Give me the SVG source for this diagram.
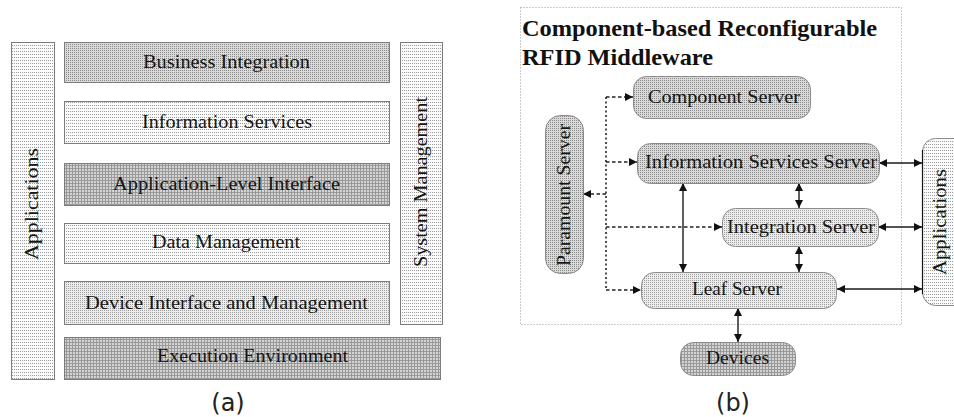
<svg xmlns="http://www.w3.org/2000/svg" width="954" height="417" viewBox="0 0 954 417">
  <style>
    .lbl { font-family: "Liberation Serif", "Times New Roman", serif; font-size: 19px; fill: #151515; text-anchor: middle; }
    .title { font-family: "Liberation Serif", "Times New Roman", serif; font-size: 23px; font-weight: bold; fill: #111; }
    .cap { font-family: "DejaVu Sans", "Noto Sans", sans-serif; font-size: 24px; fill: #222; text-anchor: middle; }
    .layer { stroke: #7c7c7c; stroke-width: 1; }
    .node { stroke: #8a8a8a; stroke-width: 1; }
    .frame { fill: none; stroke: #9a9a9a; stroke-width: 1; stroke-dasharray: 1 2; }
    .bus { fill: none; stroke: #222; stroke-width: 1.6; stroke-dasharray: 2 2.5; }
    .dash { fill: none; stroke: #222; stroke-width: 1.4; stroke-dasharray: 3.5 2.5; marker-end: url(#arr); }
    .solid { fill: none; stroke: #1a1a1a; stroke-width: 1.4; marker-start: url(#arr); marker-end: url(#arr); }
  </style>
  <defs>
    <!-- light dotted fill -->
    <pattern id="pLight" width="4" height="3" patternUnits="userSpaceOnUse">
      <rect width="4" height="3" fill="#fbfbfb"/>
      <rect x="0" y="0" width="1" height="1" fill="#9a9a9a"/>
      <rect x="2" y="0" width="1" height="1" fill="#9a9a9a"/>
    </pattern>
    <!-- soft grey dotted fill -->
    <pattern id="pSoft" width="2" height="2" patternUnits="userSpaceOnUse">
      <rect width="2" height="2" fill="#ececec"/>
      <rect x="0" y="0" width="1" height="1" fill="#a0a0a0"/>
    </pattern>
    <!-- medium grey dotted fill -->
    <pattern id="pMid" width="2" height="2" patternUnits="userSpaceOnUse">
      <rect width="2" height="2" fill="#dadada"/>
      <rect x="0" y="0" width="1" height="1" fill="#8a8a8a"/>
    </pattern>
    <!-- dark grey grid fill -->
    <pattern id="pDark" width="3" height="3" patternUnits="userSpaceOnUse">
      <rect width="3" height="3" fill="#d4d4d4"/>
      <rect x="0" y="0" width="3" height="1" fill="#999"/>
      <rect x="0" y="0" width="1" height="3" fill="#999"/>
    </pattern>
    <marker id="arr" viewBox="0 0 10 10" refX="10" refY="5" markerWidth="9" markerHeight="8" markerUnits="userSpaceOnUse" orient="auto-start-reverse">
      <path d="M0,0 L10,5 L0,10 z" fill="#111"/>
    </marker>
  </defs>

  <!-- ===== (a) layered middleware architecture ===== -->
  <g id="a-applications">
    <rect class="layer" x="11.5" y="42.5" width="43" height="337" fill="url(#pLight)"/>
    <text class="lbl" transform="translate(38,204) rotate(-90)" textLength="112" lengthAdjust="spacingAndGlyphs">Applications</text>
  </g>
  <g id="a-business">
    <rect class="layer" x="64.5" y="42.5" width="325" height="40" fill="url(#pMid)"/>
    <text class="lbl" x="226.5" y="68" textLength="167" lengthAdjust="spacingAndGlyphs">Business Integration</text>
  </g>
  <g id="a-info">
    <rect class="layer" x="64.5" y="101.5" width="325" height="42" fill="url(#pLight)"/>
    <text class="lbl" x="227" y="128" textLength="170" lengthAdjust="spacingAndGlyphs">Information Services</text>
  </g>
  <g id="a-ali">
    <rect class="layer" x="64.5" y="163.5" width="325" height="42" fill="url(#pDark)"/>
    <text class="lbl" x="226.5" y="190" textLength="227" lengthAdjust="spacingAndGlyphs">Application-Level Interface</text>
  </g>
  <g id="a-data">
    <rect class="layer" x="64.5" y="223.5" width="325" height="40" fill="url(#pLight)"/>
    <text class="lbl" x="226" y="248" textLength="148" lengthAdjust="spacingAndGlyphs">Data Management</text>
  </g>
  <g id="a-device">
    <rect class="layer" x="64.5" y="281.5" width="325" height="43" fill="url(#pSoft)"/>
    <text class="lbl" x="226.5" y="309" textLength="283" lengthAdjust="spacingAndGlyphs">Device Interface and Management</text>
  </g>
  <g id="a-exec">
    <rect class="layer" x="64.5" y="337.5" width="376" height="42" fill="url(#pDark)"/>
    <text class="lbl" x="252.5" y="362" textLength="191" lengthAdjust="spacingAndGlyphs">Execution Environment</text>
  </g>
  <g id="a-sysmgmt">
    <rect class="layer" x="400.5" y="42.5" width="42" height="282" fill="url(#pLight)"/>
    <text class="lbl" transform="translate(427,182) rotate(-90)" textLength="170" lengthAdjust="spacingAndGlyphs">System Management</text>
  </g>
  <text class="cap" x="228" y="411">(a)</text>

  <!-- ===== (b) component-based reconfigurable middleware ===== -->
  <g id="b-frame">
    <rect class="frame" x="520.5" y="7.5" width="381" height="317"/>
    <text class="title" x="522" y="36" textLength="355" lengthAdjust="spacingAndGlyphs">Component-based Reconfigurable</text>
    <text class="title" x="522" y="65" textLength="191" lengthAdjust="spacingAndGlyphs">RFID Middleware</text>
  </g>

  <g id="connectors">
    <path class="bus" d="M606,97 V290"/>
    <path class="dash" d="M606,97 H633"/>
    <path class="dash" d="M606,162 H637"/>
    <path class="dash" d="M606,194 H583"/>
    <path class="dash" d="M606,227 H722"/>
    <path class="dash" d="M606,290 H641"/>
    <path class="solid" d="M683,183 V272"/>
    <path class="solid" d="M799,183 V208"/>
    <path class="solid" d="M799,246 V272"/>
    <path class="solid" d="M738,308 V342"/>
    <path class="solid" d="M879,163 H922"/>
    <path class="solid" d="M878,227 H922"/>
    <path class="solid" d="M837,289 H922"/>
  </g>

  <g id="b-component">
    <rect class="node" x="633.5" y="76.5" width="177" height="42" rx="13" fill="url(#pMid)"/>
    <text class="lbl" x="724" y="103" textLength="152" lengthAdjust="spacingAndGlyphs">Component Server</text>
  </g>
  <g id="b-paramount">
    <rect class="node" x="545.5" y="115.5" width="38" height="158" rx="15" fill="url(#pMid)"/>
    <text class="lbl" transform="translate(570,195) rotate(-90)" textLength="142" lengthAdjust="spacingAndGlyphs">Paramount Server</text>
  </g>
  <g id="b-info">
    <rect class="node" x="637.5" y="143.5" width="242" height="40" rx="13" fill="url(#pMid)"/>
    <text class="lbl" x="761" y="168" textLength="232" lengthAdjust="spacingAndGlyphs">Information Services Server</text>
  </g>
  <g id="b-integration">
    <rect class="node" x="722.5" y="208.5" width="156" height="38" rx="13" fill="url(#pSoft)"/>
    <text class="lbl" x="801" y="233" textLength="148" lengthAdjust="spacingAndGlyphs">Integration Server</text>
  </g>
  <g id="b-leaf">
    <rect class="node" x="641.5" y="272.5" width="195" height="36" rx="13" fill="url(#pSoft)"/>
    <text class="lbl" x="737" y="295" textLength="90" lengthAdjust="spacingAndGlyphs">Leaf Server</text>
  </g>
  <g id="b-devices">
    <rect class="node" x="680.5" y="342.5" width="115" height="33" rx="13" fill="url(#pDark)"/>
    <text class="lbl" x="737.5" y="364" textLength="63" lengthAdjust="spacingAndGlyphs">Devices</text>
  </g>
  <g id="b-applications">
    <rect class="node" x="922.5" y="138.5" width="60" height="167" rx="13" fill="url(#pLight)"/>
    <path d="M922.5,150 V294" stroke="#111" stroke-width="1.2"/>
    <text class="lbl" transform="translate(946,222) rotate(-90)" textLength="106" lengthAdjust="spacingAndGlyphs">Applications</text>
  </g>
  <text class="cap" x="733" y="411">(b)</text>
</svg>
